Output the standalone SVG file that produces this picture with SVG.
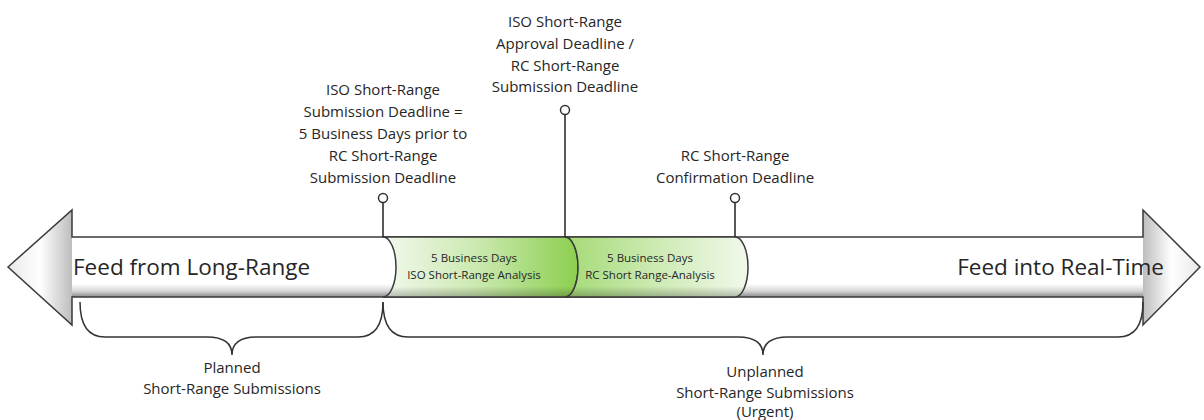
<svg xmlns="http://www.w3.org/2000/svg" width="1204" height="420" viewBox="0 0 1204 420">
<style>
  text { font-family: "Open Sans", "Liberation Sans", sans-serif; fill: #262626; text-anchor: middle; }
  .lbl { font-size: 15px; }
  .big { font-size: 22.5px; }
  .seg { font-size: 11.5px; }
  .outline { stroke: #3a3a3a; stroke-width: 1.5; }
  .tick { stroke: #222; stroke-width: 1.5; fill: none; }
  .dot { fill: #fff; stroke: #333; stroke-width: 1.5; }
  .brace { fill: none; stroke: #333; stroke-width: 1.5; }
</style>
<defs>
  <linearGradient id="bodyGrad" gradientUnits="userSpaceOnUse" x1="0" y1="237" x2="0" y2="297">
    <stop offset="0" stop-color="#ffffff"/>
    <stop offset="0.78" stop-color="#ffffff"/>
    <stop offset="0.9" stop-color="#d6d6d6"/>
    <stop offset="1" stop-color="#8a8a8a"/>
  </linearGradient>
  <linearGradient id="headL" x1="0" y1="0" x2="1" y2="0">
    <stop offset="0" stop-color="#e8e8e8"/>
    <stop offset="0.5" stop-color="#ffffff"/>
    <stop offset="1" stop-color="#bdbdbd"/>
  </linearGradient>
  <linearGradient id="headR" x1="0" y1="0" x2="1" y2="0">
    <stop offset="0" stop-color="#bdbdbd"/>
    <stop offset="0.5" stop-color="#ffffff"/>
    <stop offset="1" stop-color="#e8e8e8"/>
  </linearGradient>
  <linearGradient id="seg1Grad" x1="0" y1="0" x2="1" y2="0">
    <stop offset="0" stop-color="#f3f9ee"/>
    <stop offset="0.5" stop-color="#c9e8ad"/>
    <stop offset="1" stop-color="#8ccf4f"/>
  </linearGradient>
  <linearGradient id="seg2Grad" x1="0" y1="0" x2="1" y2="0">
    <stop offset="0" stop-color="#a4da76"/>
    <stop offset="0.5" stop-color="#cdeab3"/>
    <stop offset="1" stop-color="#f1f9ea"/>
  </linearGradient>
  <linearGradient id="segShade" gradientUnits="userSpaceOnUse" x1="0" y1="237" x2="0" y2="297">
    <stop offset="0" stop-color="#000" stop-opacity="0"/>
    <stop offset="0.82" stop-color="#000" stop-opacity="0"/>
    <stop offset="1" stop-color="#000" stop-opacity="0.25"/>
  </linearGradient>
</defs>

<g id="arrow">
  <polygon points="8,267 72,210 72,325" fill="url(#headL)"/>
  <polygon points="1200,267 1143,210 1143,325" fill="url(#headR)"/>
  <rect x="72" y="237" width="1071" height="60" fill="url(#bodyGrad)"/>
  <path class="outline" fill="none" d="M8,267 L72,210 L72,237 L1143,237 L1143,210 L1200,267 L1143,325 L1143,297 L72,297 L72,325 Z"/>
  <text class="big" x="73" y="275" style="text-anchor:start">Feed from Long-Range</text>
  <text class="big" x="1164" y="275" style="text-anchor:end">Feed into Real-Time</text>
</g>

<g id="segment-iso">
  <path d="M383,237 L565,237 A13,30 0 0 1 565,297 L383,297 A13,30 0 0 0 383,237 Z" fill="url(#seg1Grad)"/>
  <path d="M383,237 L565,237 A13,30 0 0 1 565,297 L383,297 A13,30 0 0 0 383,237 Z" fill="url(#segShade)" class="outline"/>
  <text class="seg" x="474" y="262">5 Business Days</text>
  <text class="seg" x="474" y="279">ISO Short-Range Analysis</text>
</g>

<g id="segment-rc">
  <path d="M565,237 L735,237 A13,30 0 0 1 735,297 L565,297 A13,30 0 0 0 565,237 Z" fill="url(#seg2Grad)"/>
  <path d="M565,237 L735,237 A13,30 0 0 1 735,297 L565,297 A13,30 0 0 0 565,237 Z" fill="url(#segShade)" class="outline"/>
  <text class="seg" x="650" y="262">5 Business Days</text>
  <text class="seg" x="650" y="279">RC Short Range-Analysis</text>
</g>

<g id="connectors">
  <line class="tick" x1="383" y1="202" x2="383" y2="237"/>
  <line class="tick" x1="565" y1="114" x2="565" y2="237"/>
  <line class="tick" x1="735" y1="202" x2="735" y2="237"/>
  <path class="brace" d="M80,302 Q80,337 105,337 L207,337 Q232,337 232,355 Q232,337 257,337 L358,337 Q383,337 383,302"/>
  <path class="brace" d="M383,302 Q383,337 408,337 L738,337 Q763,337 763,355 Q763,337 788,337 L1118,337 Q1143,337 1143,302"/>
</g>

<g id="marker-iso-submission">
  <circle class="dot" cx="383" cy="198" r="4.5"/>
  <text class="lbl" x="383" y="95">ISO Short-Range</text>
  <text class="lbl" x="383" y="117">Submission Deadline =</text>
  <text class="lbl" x="383" y="139">5 Business Days prior to</text>
  <text class="lbl" x="383" y="161">RC Short-Range</text>
  <text class="lbl" x="383" y="183">Submission Deadline</text>
</g>

<g id="marker-iso-approval">
  <circle class="dot" cx="565" cy="110" r="4.5"/>
  <text class="lbl" x="565" y="27">ISO Short-Range</text>
  <text class="lbl" x="565" y="49">Approval Deadline /</text>
  <text class="lbl" x="565" y="71">RC Short-Range</text>
  <text class="lbl" x="565" y="92">Submission Deadline</text>
</g>

<g id="marker-rc-confirmation">
  <circle class="dot" cx="735" cy="198" r="4.5"/>
  <text class="lbl" x="735" y="161">RC Short-Range</text>
  <text class="lbl" x="735" y="183">Confirmation Deadline</text>
</g>

<g id="planned">
  <text class="lbl" x="232" y="373">Planned</text>
  <text class="lbl" x="232" y="394">Short-Range Submissions</text>
</g>

<g id="unplanned">
  <text class="lbl" x="765" y="377">Unplanned</text>
  <text class="lbl" x="765" y="398">Short-Range Submissions</text>
  <text class="lbl" x="765" y="417">(Urgent)</text>
</g>
</svg>
